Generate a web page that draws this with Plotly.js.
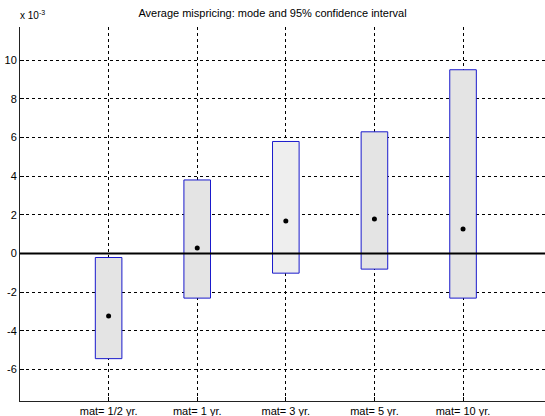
<!DOCTYPE html>
<html><head><meta charset="utf-8">
<script src="https://cdn.plot.ly/plotly-3.0.1.min.js"></script>
<style>html,body{margin:0;padding:0;background:#fff}#chart{width:545px;height:416px}</style>
</head><body><div id="chart"></div>
<script>
// values in units of 10^-3
var categories = ["mat= 1/2 yr.", "mat= 1 yr.", "mat= 3 yr.", "mat= 5 yr.", "mat= 10 yr."];
var positions = [1, 2, 3, 4, 5];
var ciLow  = [-5.44, -2.31, -1.02, -0.81, -2.31];
var ciHigh = [-0.21, 3.80, 5.79, 6.29, 9.50];
var modeVal = [-3.24, 0.28, 1.68, 1.78, 1.26];
var boxFills = ["#e4e4e4", "#e4e4e4", "#eeeeee", "#e4e4e4", "#e4e4e4"];
var yTicks = [-6, -4, -2, 0, 2, 4, 6, 8, 10];

var font = "Liberation Sans, Arial, Helvetica, sans-serif";

var bars = {
  type: "bar",
  x: positions,
  base: ciLow,
  y: ciHigh.map(function(h, i){ return h - ciLow[i]; }),
  width: 0.3,
  marker: {color: boxFills, line: {color: "#1a1acc", width: 1}},
  hoverinfo: "skip",
  showlegend: false
};
var dots = {
  type: "scatter",
  mode: "markers",
  x: positions,
  y: modeVal,
  marker: {color: "#000", size: 5},
  showlegend: false
};

var layout = {
  width: 545, height: 416,
  margin: {l: 20, r: 0, t: 27, b: 15, pad: 0},
  paper_bgcolor: "#fff", plot_bgcolor: "#fff",
  font: {family: font, size: 11, color: "#000"},
  title: {text: "Average mispricing: mode and 95% confidence interval",
          font: {family: font, size: 11, color: "#000"},
          xref: "container", x: 0.5, xanchor: "center",
          yref: "container", y: 1 - 13/416, yanchor: "middle"},
  xaxis: {range: [0, 5.925], tickvals: positions, ticktext: categories,
          showgrid: true, gridcolor: "#000", griddash: "dot", gridwidth: 1,
          showline: true, linecolor: "#222", linewidth: 1,
          ticks: "inside", ticklen: 4, tickcolor: "#000",
          zeroline: false, fixedrange: true,
          tickfont: {family: font, size: 11, color: "#000"}},
  yaxis: {range: [-7.63, 11.71], tickvals: yTicks, ticktext: yTicks.map(String),
          showgrid: true, gridcolor: "#000", griddash: "dot", gridwidth: 1,
          showline: true, linecolor: "#222", linewidth: 1,
          ticks: "inside", ticklen: 4, tickcolor: "#000",
          zeroline: false, fixedrange: true,
          tickfont: {family: font, size: 11, color: "#000"}},
  shapes: [{type: "line", xref: "paper", x0: 0, x1: 1, yref: "y", y0: 0, y1: 0,
            line: {color: "#000", width: 2}, layer: "above"}],
  annotations: [{text: "x 10<sup>-3</sup>", xref: "paper", yref: "paper",
                 x: 0, y: 1, xshift: -2, yshift: 4, xanchor: "left", yanchor: "bottom",
                 showarrow: false, font: {family: font, size: 10, color: "#000"}}]
};

Plotly.newPlot("chart", [bars, dots], layout, {staticPlot: true, displayModeBar: false});
</script></body></html>
